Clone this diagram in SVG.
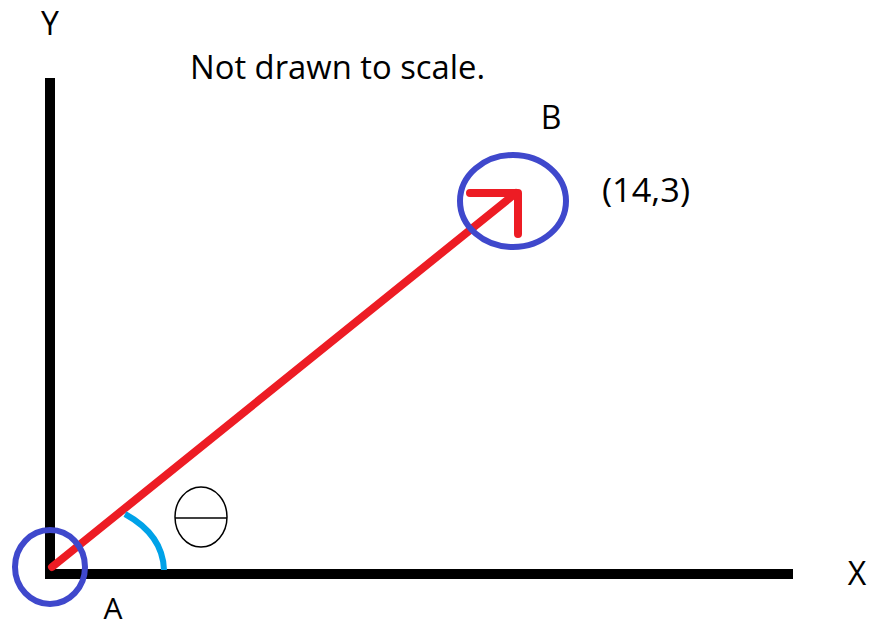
<svg xmlns="http://www.w3.org/2000/svg" width="870" height="627" viewBox="0 0 870 627">
<style>
.lbl{font-family:"Open Sans","Liberation Sans",sans-serif;font-size:32px;fill:#000}
.axis{stroke:#000;stroke-width:10;fill:none}
.ring{fill:none;stroke:#3f48cc;stroke-width:6}
.vec{stroke:#ed1c24;stroke-width:8;fill:none;stroke-linecap:round;stroke-linejoin:round}
</style>
<rect width="870" height="627" fill="#fff"/>
<g id="axes">
<path class="axis" d="M50 78 V574 H793"/>
<text class="lbl" x="50" y="35" text-anchor="middle">Y</text>
<text class="lbl" x="857" y="585" text-anchor="middle">X</text>
</g>
<text id="note" class="lbl" x="190" y="79" textLength="295" lengthAdjust="spacingAndGlyphs">Not drawn to scale.</text>
<g id="connectors">
<path class="vec" d="M52 567 L516 193"/>
<path class="vec" d="M470 193 H518 V234"/>
<path d="M125 514 Q163 535 164 570" fill="none" stroke="#00a2e8" stroke-width="6"/>
</g>
<g id="nodeA">
<ellipse class="ring" cx="50" cy="567" rx="35" ry="37"/>
<text class="lbl" x="113" y="619" text-anchor="middle" style="font-size:30px">A</text>
</g>
<g id="nodeB">
<ellipse class="ring" cx="513" cy="201" rx="53" ry="46"/>
<text class="lbl" x="551" y="129" text-anchor="middle">B</text>
<text class="lbl" x="602" y="202" textLength="88" lengthAdjust="spacingAndGlyphs">(14,3)</text>
</g>
<g id="theta">
<ellipse cx="201" cy="517" rx="26" ry="30" fill="#fff" stroke="#000" stroke-width="1.5"/>
<line x1="175" y1="518" x2="227" y2="518" stroke="#000" stroke-width="1.5"/>
</g>
</svg>
